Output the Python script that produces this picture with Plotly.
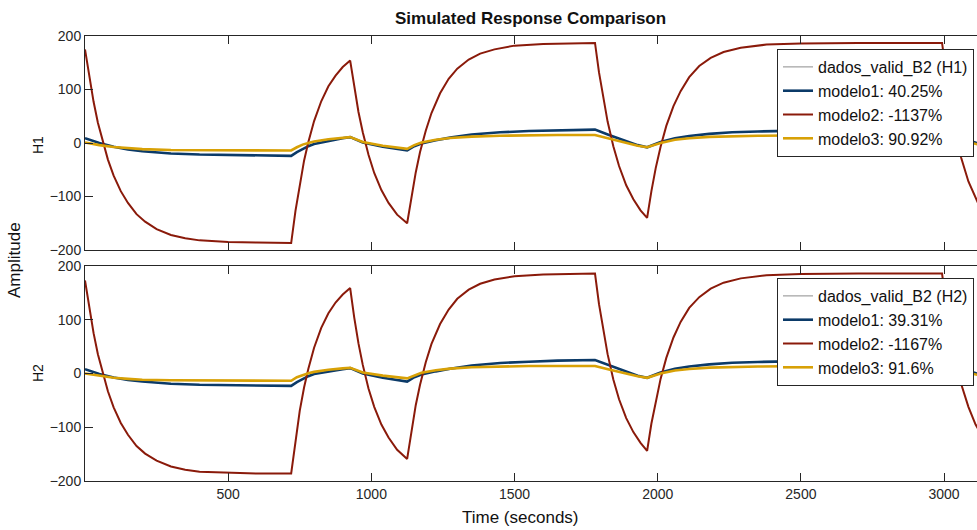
import plotly.graph_objects as go

# ---------------- data ----------------
t_red = [0, 15, 30, 45, 60, 80, 100, 125, 150, 180, 210, 250, 300, 350, 400, 500, 600, 720,
         735, 750, 765, 780, 800, 825, 850, 875, 900, 926,
         940, 955, 970, 990, 1010, 1035, 1060, 1090, 1125,
         1140, 1155, 1170, 1190, 1210, 1240, 1270, 1300, 1340, 1380, 1430, 1500, 1600, 1700, 1781,
         1795, 1810, 1825, 1845, 1865, 1890, 1915, 1940, 1963,
         1978, 1993, 2010, 2030, 2055, 2080, 2110, 2145, 2185, 2230, 2290, 2380, 2500, 2700, 2993,
         3008, 3023, 3040, 3060, 3085, 3110, 3120]

modelo2_h1 = [175, 122, 77, 38, 6, -31, -61, -90, -112, -133, -147, -161, -172, -178, -182, -185, -186, -187,
              -127, -76, -33, 2, 41, 78, 106, 126, 142, 154,
              104, 58, 20, -22, -56, -88, -112, -134, -150,
              -98, -55, -17, 23, 56, 93, 120, 139, 156, 167, 175, 182, 185, 186, 187,
              132, 82, 40, -6, -43, -79, -105, -126, -140,
              -90, -47, -7, 32, 69, 97, 123, 144, 159, 170, 178, 184, 186, 187, 187,
              122, 68, 18, -28, -72, -104, -114]

modelo2_h2 = [173, 120, 75, 36, 4, -33, -63, -92, -114, -135, -149, -162, -173, -179, -183, -185, -186, -186,
              -122, -69, -26, 9, 48, 85, 112, 132, 147, 159,
              105, 56, 16, -28, -62, -95, -119, -142, -159,
              -105, -59, -21, 21, 55, 92, 119, 139, 156, 167, 175, 181, 184, 185, 186,
              129, 79, 36, -11, -48, -83, -109, -129, -144,
              -93, -51, -10, 29, 67, 96, 122, 142, 158, 169, 177, 183, 185, 186, 186,
              125, 73, 24, -20, -62, -95, -104]

t_slow = [0, 50, 100, 150, 200, 300, 400, 500, 600, 720,
          740, 760, 780, 800, 850, 900, 926,
          970, 1040, 1125,
          1150, 1175, 1225, 1275, 1350, 1450, 1550, 1650, 1781,
          1830, 1880, 1930, 1963,
          1990, 2010, 2060, 2110, 2180, 2260, 2350, 2450, 2600, 2800, 2993,
          3040, 3080, 3120]

modelo1_h1 = [9, 0, -7, -12, -15.5, -19.5, -21.5, -22.5, -23.5, -24,
              -17, -11, -6, -2, 4, 9, 11,
              1, -7, -14,
              -6, -1, 5, 10, 16, 20, 22.5, 24, 25,
              15, 5, -4, -8,
              -2, 2, 9, 13, 17, 20, 21.5, 23, 24, 24.5, 25,
              15, 6, -1]

modelo3_h1 = [1, -4, -7.5, -10, -11.5, -13, -13.5, -14, -14, -14,
              -8, -3, 0, 3, 7, 10, 11,
              2, -5, -11,
              -4, 1, 6, 9.5, 12, 13.5, 14.5, 15, 15,
              8, 1, -5, -8,
              -3, 0, 6, 9, 11.5, 13, 13.5, 14, 14.5, 15, 15,
              8, 2, -3]

dados_h1 = [1, -4, -7.5, -10, -11.5, -13, -13.5, -14, -14, -14,
            -8, -3, 0, 3, 7, 10, 11,
            2, -5, -11,
            -4, 1, 6, 9.5, 12, 13.5, 14.5, 15, 15,
            8, 1, -5, -8,
            -3, 0, 6, 9, 11.5, 13, 13.5, 14, 14.5, 15, 15,
            8, 2, -3]

modelo1_h2 = [8, -1, -7.5, -12, -15, -19, -21, -22, -22.5, -23,
              -16, -10, -5, -1, 4, 8, 10,
              0, -8, -15,
              -7, -2, 4, 9, 15, 19.5, 22, 24, 25,
              15, 5, -4, -8,
              -2, 2, 9, 13, 17, 20, 21.5, 23, 24, 24.5, 25,
              15, 6, -1]

modelo3_h2 = [0, -4.5, -8, -10, -11.5, -12.5, -13, -13.5, -13.5, -13.5,
              -7, -2.5, 0.5, 3, 7, 9.5, 10.5,
              2, -4, -9,
              -3, 1.5, 6, 9, 11.5, 13, 14, 14, 14,
              7.5, 1, -5, -8,
              -3, 0, 5.5, 8.5, 11, 12.5, 13, 13.5, 14, 14, 14,
              7, 1.5, -3]

dados_h2 = [0, -4.5, -8, -10, -11.5, -12.5, -13, -13.5, -13.5, -13.5,
            -7, -2.5, 0.5, 3, 7, 9.5, 10.5,
            2, -4, -9,
            -3, 1.5, 6, 9, 11.5, 13, 14, 14, 14,
            7.5, 1, -5, -8,
            -3, 0, 5.5, 8.5, 11, 12.5, 13, 13.5, 14, 14, 14,
            7, 1.5, -3]

names_h1 = ["dados_valid_B2 (H1)", "modelo1: 40.25%", "modelo2: -1137%", "modelo3: 90.92%"]
names_h2 = ["dados_valid_B2 (H2)", "modelo1: 39.31%", "modelo2: -1167%", "modelo3: 91.6%"]

x_ticks = [500, 1000, 1500, 2000, 2500, 3000]
y_ticks = [-200, -100, 0, 100, 200]

# ---------------- styling ----------------
C_DATA = "#8c8c8c"
C_M1 = "#0b3a68"
C_M2 = "#8a1a0a"
C_M3 = "#d8a106"
AX = "#262626"
FONT = "Liberation Sans, Arial, sans-serif"

W, H = 977, 530
ML, MR, MT, MB = 85, 0, 36, 49
PW = W - ML - MR
PH = H - MT - MB


def py(p):
    return (H - MB - p) / PH


def px(p):
    return (p - ML) / PW


fig = go.Figure()

panels = [
    ("x", "y", "legend", names_h1, [dados_h1, modelo1_h1, modelo2_h1, modelo3_h1]),
    ("x2", "y2", "legend2", names_h2, [dados_h2, modelo1_h2, modelo2_h2, modelo3_h2]),
]
for xa, ya, lg, names, series in panels:
    d, m1, m2, m3 = series
    fig.add_trace(go.Scatter(x=t_slow, y=d, name=names[0], mode="lines", xaxis=xa, yaxis=ya,
                             legend=lg, line=dict(color=C_DATA, width=1)))
    fig.add_trace(go.Scatter(x=t_slow, y=m1, name=names[1], mode="lines", xaxis=xa, yaxis=ya,
                             legend=lg, line=dict(color=C_M1, width=2.6)))
    fig.add_trace(go.Scatter(x=t_red, y=m2, name=names[2], mode="lines", xaxis=xa, yaxis=ya,
                             legend=lg, line=dict(color=C_M2, width=2)))
    fig.add_trace(go.Scatter(x=t_slow, y=m3, name=names[3], mode="lines", xaxis=xa, yaxis=ya,
                             legend=lg, line=dict(color=C_M3, width=2.6)))

xcommon = dict(range=[0, 3115], tickvals=x_ticks, ticks="inside", ticklen=8, tickwidth=1,
               tickcolor=AX, showline=True, linecolor=AX, linewidth=1, mirror="ticks",
               showgrid=False, zeroline=False,
               tickfont=dict(family=FONT, size=14, color=AX))
ycommon = dict(range=[-200, 200], tickvals=y_ticks, ticks="inside", ticklen=8, tickwidth=1,
               tickcolor=AX, showline=True, linecolor=AX, linewidth=1, mirror=False,
               showgrid=False, zeroline=False,
               tickfont=dict(family=FONT, size=14, color=AX))

legcommon = dict(xanchor="left", yanchor="top", bgcolor="white", bordercolor=AX, borderwidth=1,
                 font=dict(family=FONT, size=16, color="#111111"), itemwidth=30,
                 tracegroupgap=0)

fig.update_layout(
    width=W, height=H,
    margin=dict(l=ML, r=MR, t=MT, b=MB, pad=0),
    paper_bgcolor="white", plot_bgcolor="white",
    showlegend=True,
    xaxis=dict(domain=[0, 1], anchor="y", showticklabels=False, **xcommon),
    yaxis=dict(domain=[py(250), 1], anchor="x", **ycommon),
    xaxis2=dict(domain=[0, 1], anchor="y2", matches="x", showticklabels=True, **xcommon),
    yaxis2=dict(domain=[0, py(266)], anchor="x2", **ycommon),
    legend=dict(x=px(777), y=py(49), **legcommon),
    legend2=dict(x=px(777), y=py(278), **legcommon),
    annotations=[
        dict(text="<b>Simulated Response Comparison</b>", xref="paper", yref="paper",
             x=px(530), y=py(18), showarrow=False, xanchor="center", yanchor="middle",
             font=dict(family=FONT, size=17, color="#111111")),
        dict(text="H1", xref="paper", yref="paper", x=px(38), y=py(145), showarrow=False,
             textangle=-90, xanchor="center", yanchor="middle",
             font=dict(family=FONT, size=14, color="#111111")),
        dict(text="H2", xref="paper", yref="paper", x=px(38), y=py(373), showarrow=False,
             textangle=-90, xanchor="center", yanchor="middle",
             font=dict(family=FONT, size=14, color="#111111")),
        dict(text="Amplitude", xref="paper", yref="paper", x=px(14), y=py(260), showarrow=False,
             textangle=-90, xanchor="center", yanchor="middle",
             font=dict(family=FONT, size=17, color="#111111")),
        dict(text="Time (seconds)", xref="paper", yref="paper", x=px(520), y=py(517),
             showarrow=False, xanchor="center", yanchor="middle",
             font=dict(family=FONT, size=17, color="#111111")),
    ],
)

fig.write_html("out.html")
